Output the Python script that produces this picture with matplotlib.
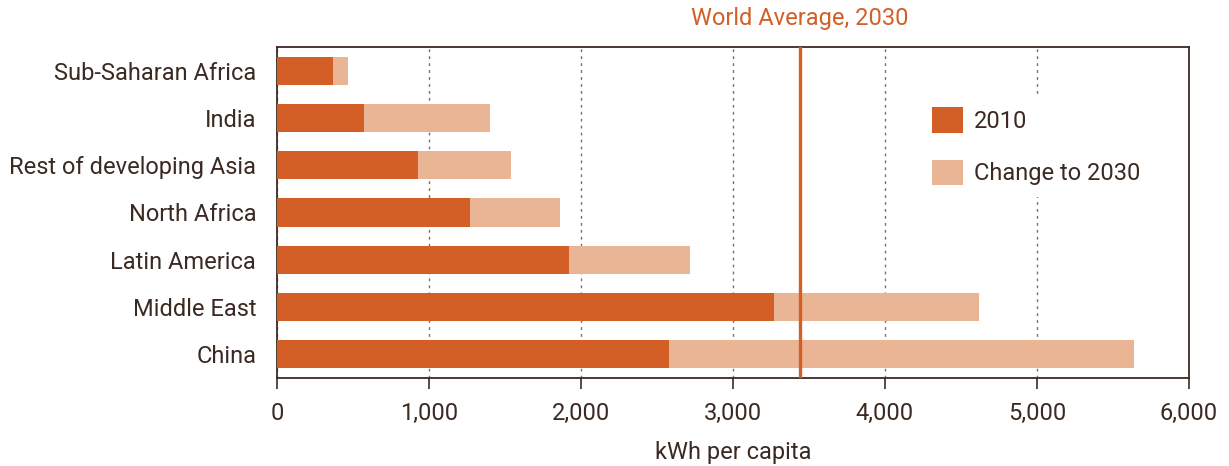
import numpy as np
import matplotlib.pyplot as plt

# Datos (kWh per cápita)
regions = ['Sub-Saharan Africa', 'India', 'Rest of developing Asia', 'North Africa',
           'Latin America', 'Middle East', 'China']
val_2010 = [370, 570, 930, 1270, 1920, 3270, 2580]
val_2030 = [470, 1400, 1540, 1860, 2720, 4620, 5640]
world_avg_2030 = 3440
xticks = [0, 1000, 2000, 3000, 4000, 5000, 6000]

dark = '#d35f27'
light = '#eab594'
txt = '#3b2a22'
fs = 17

plt.rcParams['font.family'] = ['Roboto', 'DejaVu Sans']

change = np.array(val_2030) - np.array(val_2010)
y = np.arange(len(regions))

fig = plt.figure(figsize=(12.29, 4.66), dpi=100)
ax = fig.add_axes([277 / 1229, 1 - 378 / 466, 912 / 1229, 331 / 466])

ax.barh(y, val_2010, height=0.6, color=dark, label='2010', zorder=3)
ax.barh(y, change, left=val_2010, height=0.6, color=light,
        label='Change to 2030', zorder=3)

# Línea del promedio mundial
ax.axvline(world_avg_2030, color=dark, lw=2.4, zorder=4)
ax.text(world_avg_2030, 1.085, 'World Average, 2030', color=dark,
        fontsize=fs, ha='center', va='center',
        transform=ax.get_xaxis_transform())

ax.set_xlim(0, 6000)
ax.set_ylim(6.51, -0.51)
ax.set_yticks(y)
ax.set_yticklabels(regions, fontsize=fs, color=txt)
ax.tick_params(axis='y', length=0, pad=15)
ax.set_xticks(xticks)
ax.set_xticklabels([f'{v:,}' for v in xticks], fontsize=fs, color=txt)
ax.tick_params(axis='x', direction='out', length=8, width=1.2, color=txt, pad=9)
ax.set_xlabel('kWh per capita', fontsize=fs, color=txt, labelpad=12)

ax.xaxis.grid(True, linestyle=(0, (2, 3)), color='#8a6a55', lw=1, zorder=1)
for s in ax.spines.values():
    s.set_color(txt)
    s.set_linewidth(1.3)

leg = ax.legend(loc='upper left', bbox_to_anchor=(0.705, 0.855), frameon=True,
                fontsize=fs, handlelength=1.31, handleheight=1.31,
                labelspacing=1.14, borderpad=0.5, handletextpad=0.47,
                borderaxespad=0)
leg.get_frame().set_facecolor('white')
leg.get_frame().set_edgecolor('none')
leg.get_frame().set_alpha(1)
leg.set_zorder(5)
for t in leg.get_texts():
    t.set_color(txt)

fig.savefig('out.png', dpi=100)
